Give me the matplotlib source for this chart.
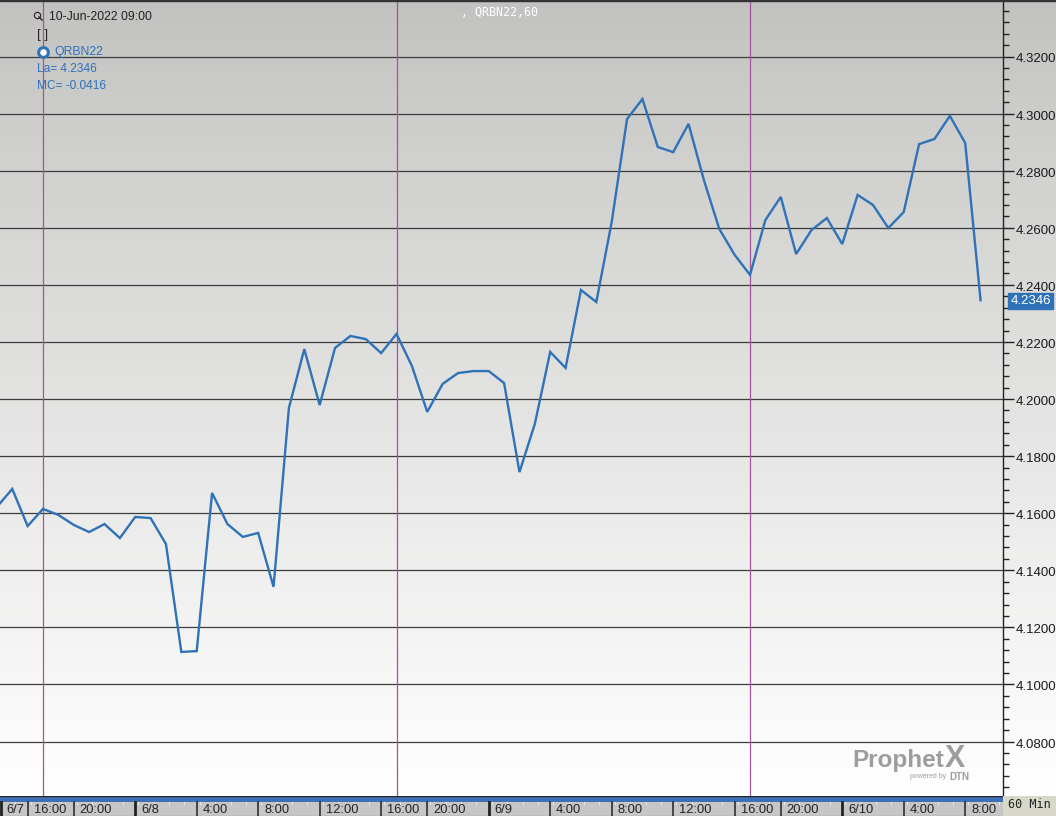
import numpy as np
import matplotlib
matplotlib.use("Agg")
import matplotlib.pyplot as plt
from matplotlib.patches import Rectangle
from matplotlib.transforms import ScaledTranslation

W, H = 1056, 816
symbol = "QRBN22"
prices = [4.1622, 4.1685, 4.1555, 4.1615, 4.1594, 4.1559, 4.1534, 4.1562, 4.1513, 4.1587,
          4.1583, 4.1492, 4.1114, 4.1117, 4.1671, 4.1562, 4.1517, 4.1531, 4.1342, 4.1969,
          4.2175, 4.1979, 4.2179, 4.2221, 4.2210, 4.2161, 4.2228, 4.2116, 4.1955, 4.2053,
          4.2091, 4.2098, 4.2098, 4.2056, 4.1744, 4.1913, 4.2165, 4.2109, 4.2382, 4.2340,
          4.2620, 4.2981, 4.3051, 4.2883, 4.2865, 4.2964, 4.2767, 4.2596, 4.2505, 4.2435,
          4.2627, 4.2708, 4.2508, 4.2592, 4.2634, 4.2543, 4.2715, 4.2680, 4.2599, 4.2655,
          4.2893, 4.2911, 4.2992, 4.2897, 4.2346]
y_ticks = [4.08, 4.10, 4.12, 4.14, 4.16, 4.18, 4.20, 4.22, 4.24, 4.26, 4.28, 4.30, 4.32]
session_bars = [3, 26, 49]
time_bars = [0.25, 2, 5, 9, 13, 17, 21, 25, 28, 32, 36, 40, 44, 48, 51, 55, 59, 63]
time_labels = ["6/7", "16:00", "20:00", "6/8", "4:00", "8:00", "12:00", "16:00", "20:00",
               "6/9", "4:00", "8:00", "12:00", "16:00", "20:00", "6/10", "4:00", "8:00"]
day_labels = ["6/7", "6/8", "6/9", "6/10"]

def ax_px(x0, y0, x1, y1):
    return fig.add_axes([x0 / W, 1 - y1 / H, (x1 - x0) / W, (y1 - y0) / H])

plt.rcParams["font.family"] = ["Liberation Sans", "DejaVu Sans"]
fig = plt.figure(figsize=(W / 100, H / 100), dpi=100, facecolor="white")

# price pane: bar index 3 sits at pixel 43, one bar = 15.37 px
bar_px = 15.37
x_of = lambda px: 3 + (px - 43) / bar_px
y_of = lambda py: 4.32 - (py - 56.5) * 0.02 / 57.09
ax = ax_px(0, 1, 1003, 796)
ax.set_facecolor("none")

grad = np.linspace(0, 1, 256).reshape(-1, 1) ** 0.9
bg = fig.add_axes([0, 0, 1, 1], zorder=-1)
bg.imshow(grad, aspect="auto", cmap=matplotlib.colors.LinearSegmentedColormap.from_list("g", ["#c2c2c0", "#ffffff"]),
          extent=(0, W, H - 796, H))
bg.set_xlim(0, W); bg.set_ylim(0, H); bg.axis("off")

for t in y_ticks:
    ax.axhline(t, color="#3c3c3c", lw=0.9, zorder=1)
for b in session_bars:
    ax.axvline(b, color="#a2559f", lw=0.9, zorder=2)
ax.plot(range(len(prices)), prices, color="#2f72b8", lw=1.7, zorder=3, solid_joinstyle="miter")

for s in ("top", "bottom", "left"):
    ax.spines[s].set_visible(False)
ax.spines["right"].set_color("#222222")
ax.spines["right"].set_linewidth(1.0)
ax.xaxis.set_visible(False)
ax.yaxis.tick_right()
ax.set_yticks(y_ticks, [f"{t:.4f}" for t in y_ticks], fontsize=9.5, color="#1a1a1a")
ax.set_yticks(np.arange(4.064, 4.3361, 0.004), minor=True)
ax.tick_params(axis="y", which="major", length=8, width=1, color="#222222", pad=0.8, direction="out")
ax.tick_params(axis="y", which="minor", length=4, width=1, color="#222222", direction="out")
shift = ScaledTranslation(0, -1.5 / 100, fig.dpi_scale_trans)
for tl in ax.get_yticklabels():
    tl.set_transform(tl.get_transform() + shift)
ax.set_ylim(y_of(796), y_of(1))
ax.set_xlim(x_of(0), x_of(1003))
fig.add_artist(Rectangle((0, 1 - 1.2 / H), 1, 1.2 / H, color="#333333", transform=fig.transFigure))

# overlays placed in pixels
def label(px, py, s, **kw):
    fig.text(px / W, 1 - py / H, s, va="center", **kw)
label(49, 17.5, "10-Jun-2022 09:00", fontsize=8.8, color="#222222")
label(37, 35, "[ ]", fontsize=9.5, color="#222222")
label(54, 52, symbol, fontsize=8.8, color="#2f72b8")
label(37, 69, "La= 4.2346", fontsize=8.6, color="#2f72b8")
label(37, 86, "MC= -0.0416", fontsize=8.6, color="#2f72b8")
label(461, 12, ", " + symbol + ",60", fontsize=8.4, color="white", family="DejaVu Sans Mono")
label(852, 760, "Prophet", fontsize=17.5, fontweight="bold", color="#9d9d9d")
label(945, 759, "X", fontsize=22, fontweight="bold", color="#9d9d9d")
label(910, 777, "powered by", fontsize=5, color="#9d9d9d")
label(949, 777, "DTN", fontsize=7, fontweight="bold", color="#9d9d9d")
ov = fig.add_axes([0, 0, 1, 1], zorder=5)
ov.set_xlim(0, W); ov.set_ylim(H, 0); ov.axis("off")
ov.plot([42.5], [51.5], marker="o", ms=7, mfc="white", mec="#2f72b8", mew=2.2)
ov.plot([36.5], [14.5], marker="o", ms=4.5, mfc="none", mec="#222222", mew=0.8)
ov.plot([39, 42], [17, 20], color="#222222", lw=1)
ov.add_patch(Rectangle((1008, 293), 45, 16, color="#2f72b8"))
ov.text(1011, 301.5, f"{prices[-1]:.4f}", color="white", fontsize=9.5, va="center")

# time strip
ts = ax_px(0, 796, 1003, 816)
ts.set_facecolor("#c6c6c6")
ts.axhspan(0, 5.5, color="#3f6fb5", lw=0)
ts.axhline(0.3, color="#222222", lw=1)
ts.axhline(19.6, color="#444444", lw=0.8)
ts.set_xticks([]); ts.set_yticks([])
for s in ts.spines.values():
    s.set_visible(False)
for b in np.arange(x_of(0), x_of(1003)):
    ts.plot([b, b], [6, 8], color="#e8e8e8", lw=0.8)
for b, text in zip(time_bars, time_labels):
    ts.plot([b, b], [5.5, 20], color="#222222", lw=2 if text in day_labels else 1.1)
    ts.annotate(text, (b, 14.3), xytext=(4.3, 0), textcoords="offset points",
                fontsize=9.3, color="#222222", va="center", ha="left", annotation_clip=False)
ts.set_xlim(x_of(0), x_of(1003)); ts.set_ylim(20, 0)
corner = ax_px(1003, 796, W, 816)
corner.set_facecolor("#d8d8c8"); corner.set_xticks([]); corner.set_yticks([])
for s in corner.spines.values():
    s.set_visible(False)
corner.text(0.5, 0.55, "60 Min", family="DejaVu Sans Mono", fontsize=8.5, color="#222222", ha="center", va="center", transform=corner.transAxes)

fig.savefig("out.png", dpi=100)
